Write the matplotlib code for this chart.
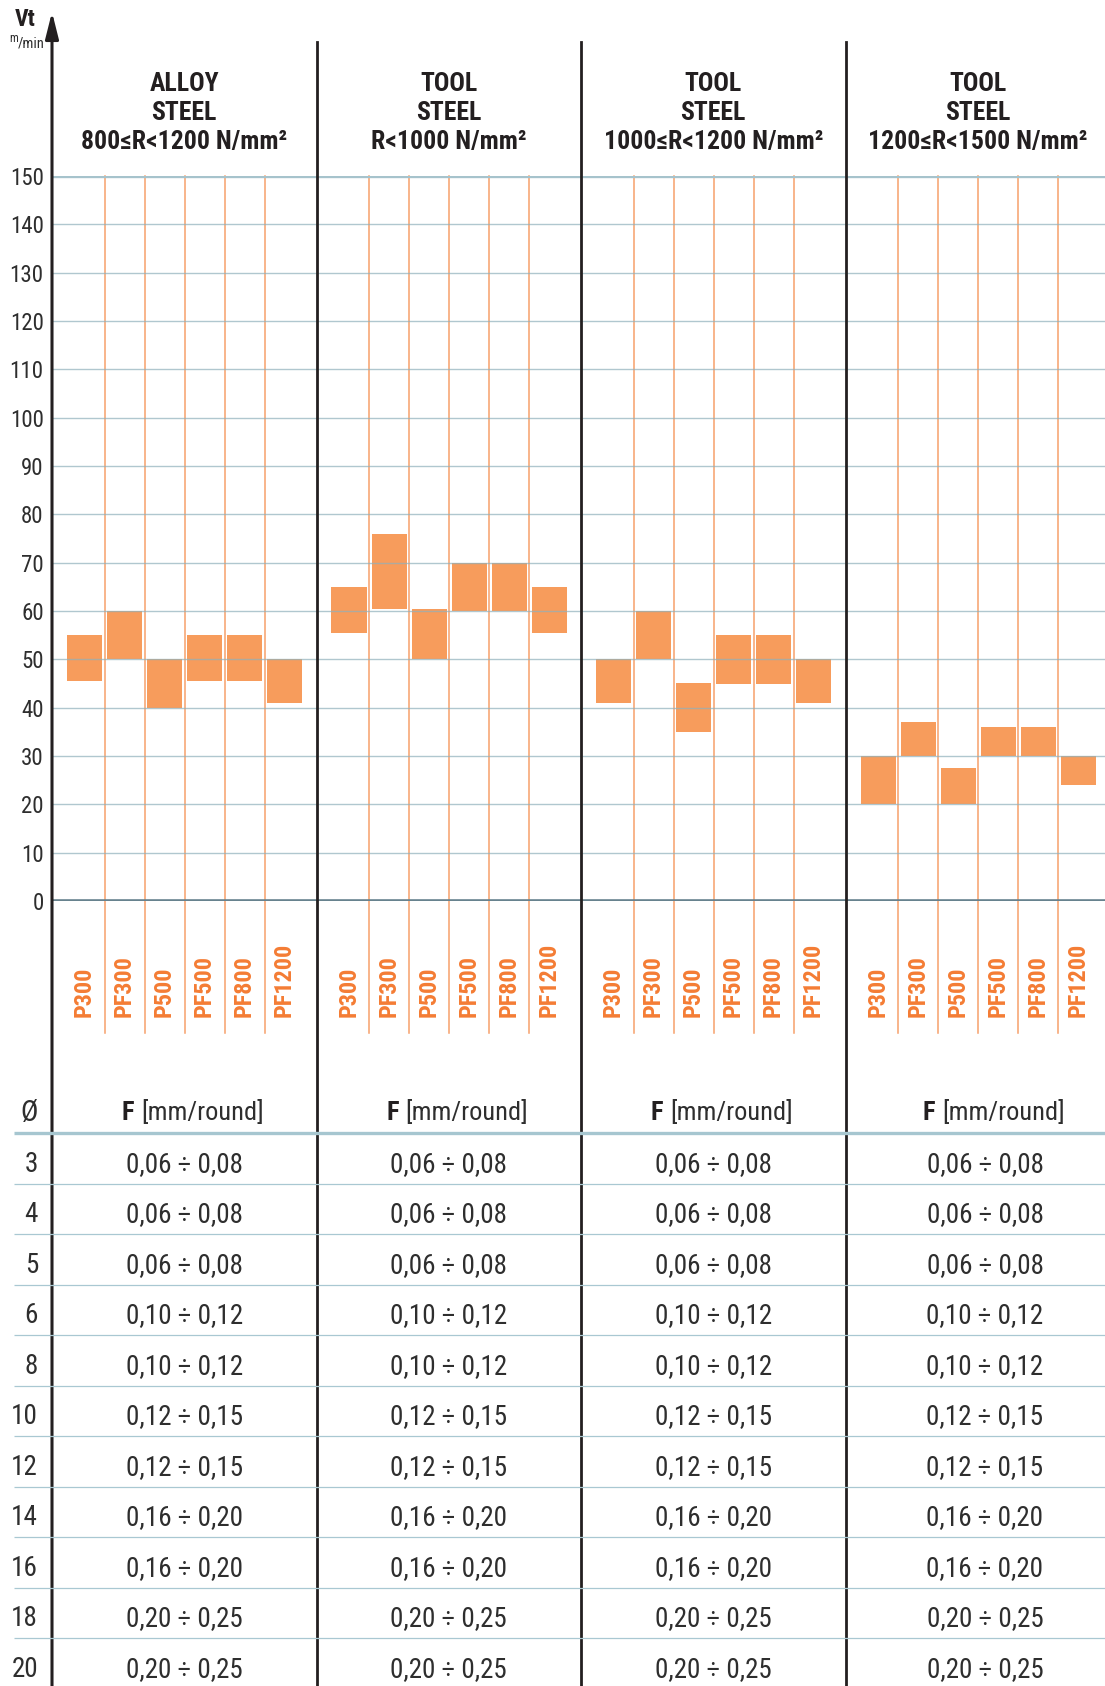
import matplotlib
matplotlib.use("Agg")
import matplotlib.pyplot as plt
from matplotlib.transforms import blended_transform_factory

plt.rcParams['font.family'] = ['Roboto Condensed', 'DejaVu Sans']

# --- data ---
headers = ['ALLOY\nSTEEL\n800\u2264R<1200 N/mm\u00b2',
           'TOOL\nSTEEL\nR<1000 N/mm\u00b2',
           'TOOL\nSTEEL\n1000\u2264R<1200 N/mm\u00b2',
           'TOOL\nSTEEL\n1200\u2264R<1500 N/mm\u00b2']
tools = ['P300', 'PF300', 'P500', 'PF500', 'PF800', 'PF1200']

alloy_low = [45.5, 50, 40, 45.5, 45.5, 41]
alloy_high = [55, 60, 50, 55, 55, 50]
tool1000_low = [55.5, 60.5, 50, 60, 60, 55.5]
tool1000_high = [65, 76, 60.5, 70, 70, 65]
tool1200_low = [41, 50, 35, 45, 45, 41]
tool1200_high = [50, 60, 45, 55, 55, 50]
tool1500_low = [20, 30, 20, 30, 30, 24]
tool1500_high = [30, 37, 27.5, 36, 36, 30]
lows = [alloy_low, tool1000_low, tool1200_low, tool1500_low]
highs = [alloy_high, tool1000_high, tool1200_high, tool1500_high]

yticks = list(range(0, 151, 10))

diameters = [3, 4, 5, 6, 8, 10, 12, 14, 16, 18, 20]
feeds = ['0,06 \u00f7 0,08', '0,06 \u00f7 0,08', '0,06 \u00f7 0,08',
         '0,10 \u00f7 0,12', '0,10 \u00f7 0,12',
         '0,12 \u00f7 0,15', '0,12 \u00f7 0,15',
         '0,16 \u00f7 0,20', '0,16 \u00f7 0,20',
         '0,20 \u00f7 0,25', '0,20 \u00f7 0,25']

# --- layout (pixels of the 1105x1686 picture) ---
W, H = 1105, 1686
SLOT = 40.0                 # px per tool slot
PANEL = 264.5 / SLOT        # panel width in slots
MARGIN = 12.5 / SLOT
Y0, Y150 = 901, 176
TBL_TOP, ROW = 1133, 50.5

DARK = '#231f20'
TXT = '#2e2e2e'
ORANGE_BAR = '#f79c5c'
ORANGE_LINE = '#f6a06b'
ORANGE_TXT = '#f47c34'
GRID = '#8fb0bb'


def frac(py):
    # chart-axes fraction for a pixel row
    return (Y0 - py) / (Y0 - Y150)


fig = plt.figure(figsize=(W / 100, H / 100), dpi=100)
ax = fig.add_axes([52 / W, 1 - Y0 / H, (W - 52) / W, (Y0 - Y150) / H])
ax.set_facecolor('none')
for s in ax.spines.values():
    s.set_visible(False)
bt = blended_transform_factory(ax.transData, ax.transAxes)

for p in range(4):
    left = p * PANEL
    xs = [left + MARGIN + 0.5 + i for i in range(len(tools))]
    heights = [h - l for l, h in zip(lows[p], highs[p])]
    ax.bar(xs, heights, bottom=lows[p], width=0.875, color=ORANGE_BAR,
           linewidth=0, zorder=2)
    # separators between tools
    for i in range(1, len(tools)):
        ax.axvline(left + MARGIN + i, ymin=frac(1033), ymax=1.0,
                   color=ORANGE_LINE, lw=1.1, zorder=1, clip_on=False)
    for x, name in zip(xs, tools):
        ax.text(x, frac(1017), name, transform=bt, rotation=90,
                ha='center', va='bottom', fontsize=17.5, weight='bold',
                color=ORANGE_TXT)
    ax.text(left + PANEL / 2, frac(113), headers[p], transform=bt,
            ha='center', va='center', fontsize=18.5, weight='bold',
            color=DARK, linespacing=1.25)
    if p > 0:
        ax.axvline(left, ymin=frac(H), ymax=frac(42), color=DARK, lw=2,
                   zorder=4, clip_on=False)

for v in yticks[1:-1]:
    ax.axhline(v, color=GRID, lw=1.0, alpha=0.7, zorder=3)
ax.axhline(150, color='#a6c3cc', lw=2.4, zorder=3)
ax.axhline(0, color='#67828e', lw=2.6, zorder=3)

ax.set_xlim(0, (W - 52) / SLOT)
ax.set_ylim(0, 150)
ax.set_xticks([])
ax.set_yticks(yticks)
ax.set_yticklabels([str(v) for v in yticks], fontsize=16.5, color=TXT)
ax.tick_params(axis='y', length=0, pad=6)

# y axis with arrow
ax.annotate('', xy=(0, frac(12)), xytext=(0, frac(H)), xycoords='axes fraction',
            annotation_clip=False,
            arrowprops=dict(arrowstyle='-|>,head_length=0.8,head_width=0.2',
                            mutation_scale=20, lw=2.2, color=DARK,
                            shrinkA=0, shrinkB=0))
fig.text(25 / W, 1 - 20 / H, 'Vt', ha='center', va='center', fontsize=17,
         weight='bold', color=DARK)
fig.text(18 / W, 1 - 47 / H, '/min', ha='left', va='baseline', fontsize=10.5,
         color=TXT)
fig.text(18 / W, 1 - 42 / H, 'm', ha='right', va='baseline', fontsize=8.5,
         color=TXT)

# --- feed table ---
axt = fig.add_axes([0, 0, 1, (H - 1085) / H])
axt.set_facecolor('none')
axt.set_axis_off()
axt.set_xlim(-52 / SLOT, (W - 52) / SLOT)
axt.set_ylim((H - TBL_TOP) / ROW, (1085 - TBL_TOP) / ROW)

axt.hlines(0, (14 - 52) / SLOT, (W - 52) / SLOT, color='#a6c6d0', lw=2.4)
axt.hlines(range(1, len(diameters)), (14 - 52) / SLOT, (W - 52) / SLOT,
           color='#a9c8d2', lw=0.9)
axt.text((29 - 52) / SLOT, -0.4, '\u00d8', ha='center', va='center',
         fontsize=21, color=TXT)
table_shift = [0, 0, 0, 0.18]
for p in range(4):
    cx = p * PANEL + PANEL / 2 + table_shift[p]
    axt.text(cx - 1.25, -0.4, 'F', ha='right', va='center', fontsize=19,
             weight='bold', color=DARK)
    axt.text(cx - 1.08, -0.4, '[mm/round]', ha='left', va='center',
             fontsize=19, color=TXT)
    for k, f in enumerate(feeds):
        axt.text(cx, k + 0.62, f, ha='center', va='center', fontsize=19.5,
                 color=TXT)
for k, d in enumerate(diameters):
    axt.text((38 - 52) / SLOT, k + 0.62, str(d), ha='right', va='center',
             fontsize=19.5, color=TXT)

fig.savefig('out.png', dpi=100)
